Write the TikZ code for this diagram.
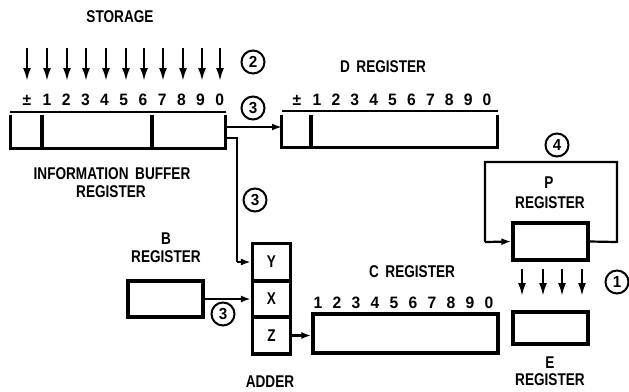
\documentclass[tikz,border=0pt]{standalone}
\usepackage{fontspec}
\setmainfont{Liberation Sans}[FakeStretch=0.8]
\newfontfamily\digfont{Liberation Sans}[FakeStretch=0.95]
\usetikzlibrary{arrows.meta,calc}
\begin{document}
\begin{tikzpicture}[x=1pt,y=-1pt,
  lbl/.style={font=\fontsize{17}{19}\selectfont\bfseries, inner sep=0pt},
  dig/.style={font=\digfont\fontsize{16.5}{19}\selectfont\bfseries, inner sep=0pt},
  reg/.style={draw, line width=3.2pt, inner sep=0pt},
  circ/.style={draw, circle, line width=2pt, minimum size=23pt, inner sep=0pt, font=\digfont\fontsize{16}{18}\selectfont\bfseries},
  arr/.style={line width=2.2pt, -{Latex[length=10pt,width=7pt]}},
  ln/.style={line width=2.2pt},
  thick3/.style={line width=3.2pt},
  topl/.style={line width=1.8pt},
  down/.style={line width=2.2pt, -{Latex[length=13pt,width=8pt]}}
]
\useasboundingbox (0,0) rectangle (629,391);

% ---------------- STORAGE -----------------
\node[lbl] (storage) at (120,17) {STORAGE};
\foreach \x [count=\i] in {27,47,67,86,106,126,144,163,183,202,220}{
  \coordinate (st\i) at (\x,48);
  \coordinate (sb\i) at (\x,81);
  \draw[down] (st\i) -- (sb\i);
}
\node[circ] (c2) at (253,62) {2};

% ---------------- INFORMATION BUFFER REGISTER -----------------
\node[inner sep=0pt, minimum width=214pt, minimum height=33pt] (ibr) at (118,131.5) {};
\draw[thick3] (ibr.north west) -- (ibr.south west) -- (ibr.south east) -- (ibr.north east);
\draw[thick3] (42,115) -- (42,148);
\draw[thick3] (152,115) -- (152,148);
\draw[topl] (10,112) -- (226,112);
\node[dig] (ibrpm) at (27,100) {±};
\foreach \d [count=\i] in {1,2,3,4,5,6,7,8,9,0}{
  \node[dig] (ibrd\i) at ({47+(\i-1)*19.2},100) {\d};
}
\node[lbl] (ibrl1) at (112,174) {INFORMATION\, BUFFER};
\node[lbl] (ibrl2) at (111,192) {REGISTER};

% ---------------- D REGISTER -----------------
\node[lbl] (dlab) at (383,67) {D\, REGISTER};
\node[inner sep=0pt, minimum width=215pt, minimum height=32pt] (dreg) at (389.5,131) {};
\draw[thick3] (dreg.north west) -- (dreg.south west) -- (dreg.south east) -- (dreg.north east);
\draw[thick3] (311,115) -- (311,147);
\draw[topl] (282,111) -- (498,111);
\node[dig] (dpm) at (297,100) {±};
\foreach \d [count=\i] in {1,2,3,4,5,6,7,8,9,0}{
  \node[dig] (dd\i) at ({317+(\i-1)*18.9},100) {\d};
}

% IBR -> D register
\coordinate (ibrA) at (225,127);
\coordinate (dA) at (282,127);
\draw[arr] (ibrA) -- (dA);
\node[circ] (c3a) at (253,108) {3};

% ---------------- ADDER -----------------
\node[reg, minimum width=38pt, minimum height=37pt] (ay) at (271.5,262) {};
\node[reg, minimum width=38pt, minimum height=36pt] (ax) at (271.5,299) {};
\node[reg, minimum width=38pt, minimum height=37pt] (az) at (271.5,335.5) {};
\node[lbl] (ylab) at (ay) {Y};
\node[lbl] (xlab) at (ax) {X};
\node[lbl] (zlab) at (az) {Z};
\node[lbl] (adder) at (270,382) {ADDER};

% IBR -> adder Y
\coordinate (ibrB) at (225,138);
\coordinate (bend1) at (237,138);
\coordinate (bend2) at (237,262);
\draw[ln] (ibrB) -- (bend1) -- (bend2);
\draw[arr] (bend2) -- (ay.west);
\node[circ] (c3b) at (255,200) {3};

% ---------------- B REGISTER -----------------
\node[lbl] (blab1) at (166,239) {B};
\node[lbl] (blab2) at (166,257) {REGISTER};
\node[reg, minimum width=75pt, minimum height=36pt] (breg) at (165.5,299) {};
\draw[arr] (breg.east) -- (ax.west);
\node[circ] (c3c) at (223,314) {3};

% ---------------- C REGISTER -----------------
\node[lbl] (clab) at (412,272) {C\, REGISTER};
\node[reg, minimum width=185pt, minimum height=39pt] (creg) at (405.5,333.5) {};
\foreach \d [count=\i] in {1,2,3,4,5,6,7,8,9,0}{
  \node[dig] (cd\i) at ({318+(\i-1)*19},303) {\d};
}
\draw[arr] (az.east) -- (creg.west |- az.east);

% ---------------- P REGISTER -----------------
\node[circ] (c4) at (557,145) {4};
\node[lbl] (plab1) at (549,183) {P};
\node[lbl] (plab2) at (550,203) {REGISTER};
\node[reg, minimum width=75pt, minimum height=37pt] (preg) at (550.5,241.5) {};
\coordinate (pl1) at (485,242);
\coordinate (pl2) at (485,162);
\coordinate (pr1) at (617,242);
\coordinate (pr2) at (617,162);
\draw[ln] (preg.east) -- (pr1) -- (pr2) -- (pl2) -- (pl1);
\draw[arr] (pl1) -- (preg.west);

% P -> E arrows
\foreach \x [count=\i] in {522,543,562,582}{
  \coordinate (pt\i) at (\x,269);
  \coordinate (pb\i) at (\x,296);
  \draw[down] (pt\i) -- (pb\i);
}
\node[circ] (c1) at (617,282) {1};

% ---------------- E REGISTER -----------------
\node[reg, minimum width=75pt, minimum height=32pt] (ereg) at (550.5,328) {};
\node[lbl] (elab1) at (550,363) {E};
\node[lbl] (elab2) at (550,380) {REGISTER};
\end{tikzpicture}
\end{document}
